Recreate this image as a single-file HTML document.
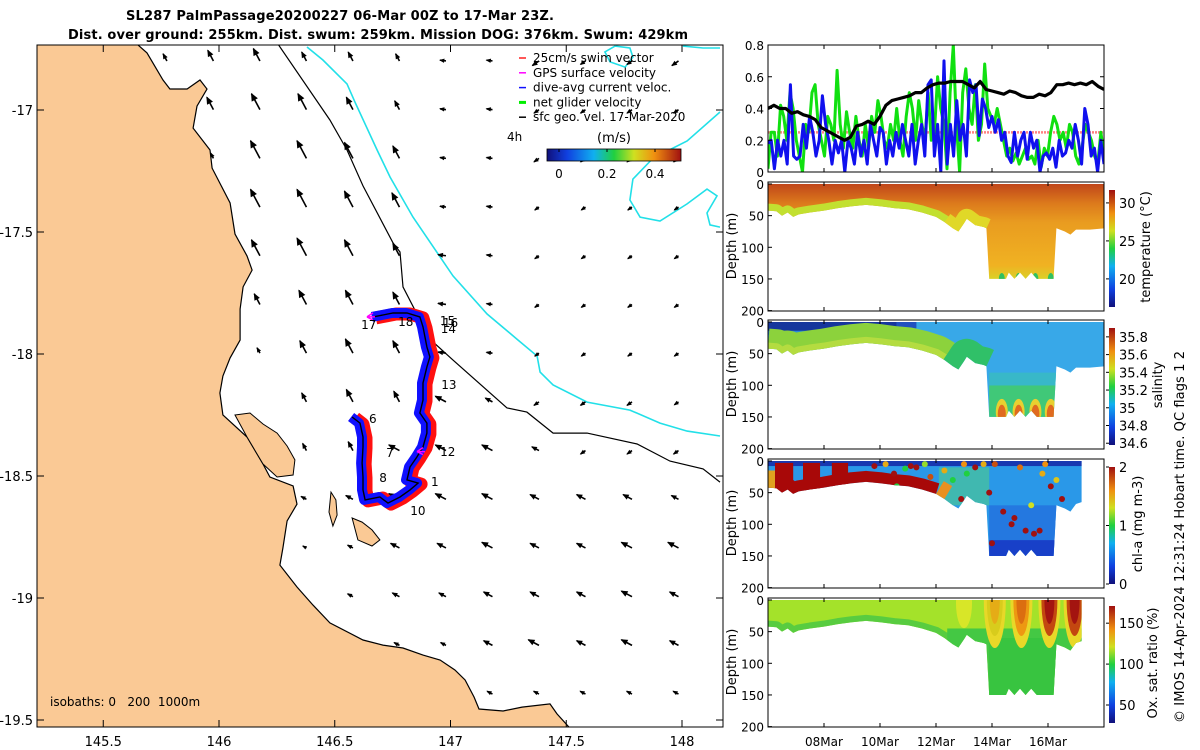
<!DOCTYPE html>
<html><head><meta charset="utf-8"><style>
html,body{margin:0;padding:0;background:#fff;}
svg{display:block;font-family:"DejaVu Sans","Liberation Sans",sans-serif;}
</style></head><body>
<svg id="fig" width="1200" height="750" viewBox="0 0 1200 750" xmlns="http://www.w3.org/2000/svg">
<defs>
<linearGradient id="jetH" x1="0" y1="0" x2="1" y2="0">
<stop offset="0" stop-color="#10107a"/><stop offset="0.15" stop-color="#1040e0"/><stop offset="0.35" stop-color="#10b0f0"/><stop offset="0.5" stop-color="#20d040"/><stop offset="0.65" stop-color="#d0e020"/><stop offset="0.8" stop-color="#f09010"/><stop offset="1" stop-color="#a01010"/></linearGradient>
<linearGradient id="jetV" x1="0" y1="1" x2="0" y2="0">
<stop offset="0" stop-color="#10107a"/><stop offset="0.15" stop-color="#1040e0"/><stop offset="0.35" stop-color="#10b0f0"/><stop offset="0.5" stop-color="#20d040"/><stop offset="0.65" stop-color="#d0e020"/><stop offset="0.8" stop-color="#f09010"/><stop offset="1" stop-color="#a01010"/></linearGradient>
<linearGradient id="tempGrad" gradientUnits="userSpaceOnUse" x1="0" y1="184" x2="0" y2="280">
<stop offset="0" stop-color="#c0461a"/><stop offset="0.2" stop-color="#dc7a1c"/><stop offset="0.4" stop-color="#e99c20"/><stop offset="0.85" stop-color="#f0b222"/><stop offset="1" stop-color="#d8d428"/></linearGradient>
<clipPath id="mapClip"><rect x="37" y="45" width="686" height="682"/></clipPath>
<clipPath id="velClip"><rect x="768" y="45" width="336" height="127"/></clipPath>
<clipPath id="ylabClip"><rect x="720" y="44" width="40" height="160"/></clipPath>
</defs>
<g id="map"></g>
<g id="right"></g>
<text x="340" y="20" text-anchor="middle" font-size="13" font-weight="bold" textLength="428">SL287 PalmPassage20200227 06-Mar 00Z to 17-Mar 23Z.</text>
<text x="378" y="39" text-anchor="middle" font-size="13" font-weight="bold" textLength="620">Dist. over ground: 255km. Dist. swum: 259km. Mission DOG: 376km. Swum: 429km</text>
<text transform="translate(1184,537) rotate(-90)" text-anchor="middle" font-size="13" textLength="372">© IMOS 14-Apr-2024 12:31:24 Hobart time. QC flags 1  2</text>
</svg>
<script>
const NS="http://www.w3.org/2000/svg";
// ---------- MAP DATA ----------
const lonTicks=[145.5,146,146.5,147,147.5,148];
const latTicks=[-17,-17.5,-18,-18.5,-19,-19.5];
const coastLon=[145.646,145.689,145.758,145.788,145.862,145.918,145.948,145.905,145.888,145.961,145.970,146.048,146.069,146.121,146.143,146.104,146.091,146.091,146.048,146.017,146.004,146.017,146.121,146.190,146.220,146.320,146.337,146.294,146.276,146.263,146.337,146.406,146.479,146.622,146.708,146.795,146.881,146.955,147.019,147.063,147.102,147.123,147.227,147.309,147.430,147.460,147.512];
const coastLat=[-16.730,-16.766,-16.877,-16.914,-16.914,-16.877,-16.914,-16.984,-17.074,-17.164,-17.238,-17.381,-17.508,-17.598,-17.656,-17.725,-17.816,-17.943,-18.016,-18.090,-18.160,-18.250,-18.340,-18.451,-18.504,-18.541,-18.615,-18.684,-18.795,-18.865,-18.955,-19.029,-19.102,-19.172,-19.193,-19.205,-19.234,-19.254,-19.295,-19.336,-19.406,-19.455,-19.463,-19.447,-19.434,-19.475,-19.529];
const peninLon=[146.069,146.134,146.190,146.251,146.294,146.328,146.320,146.251,146.190,146.121];
const peninLat=[-18.250,-18.242,-18.287,-18.324,-18.377,-18.434,-18.496,-18.504,-18.451,-18.340];
const palmLon=[146.575,146.618,146.661,146.695,146.661,146.600];
const palmLat=[-18.672,-18.689,-18.721,-18.762,-18.787,-18.762];
const palm2Lon=[146.484,146.505,146.510,146.492,146.475];
const palm2Lat=[-18.566,-18.598,-18.660,-18.705,-18.648];
const iso200Lon=[146.255,146.479,146.553,146.622,146.752,146.782,146.795,146.911,147.011,147.244,147.330,147.443,147.590,147.806,147.948,148.091,148.164];
const iso200Lat=[-16.730,-17.041,-17.164,-17.311,-17.545,-17.582,-17.725,-17.939,-18.025,-18.221,-18.238,-18.324,-18.324,-18.369,-18.439,-18.471,-18.525];
const iso1000Lon=[146.380,146.449,146.553,146.587,146.683,146.739,146.838,147.011,147.158,147.287,147.374,147.387,147.443,147.590,147.775,147.905,148.022,148.164];
const iso1000Lat=[-16.742,-16.795,-16.893,-16.967,-17.164,-17.275,-17.439,-17.680,-17.836,-17.939,-18.008,-18.074,-18.127,-18.197,-18.230,-18.283,-18.316,-18.336];
const loopLon=[147.711,147.775,147.788,147.754,147.689,147.667,147.711];
const loopLat=[-16.738,-16.746,-16.783,-16.824,-16.803,-16.762,-16.738];
const topRLon=[148.004,148.091,148.164];
const topRLat=[-16.738,-16.746,-16.746];
const eddyLon=[148.164,148.022,147.875,147.788,147.775,147.819,147.905,148.022,148.108,148.151,148.108,148.121,148.164];
const eddyLat=[-17.008,-17.127,-17.197,-17.283,-17.369,-17.439,-17.455,-17.385,-17.324,-17.352,-17.422,-17.471,-17.480];
const trackLon=[146.575,146.609,146.622,146.622,146.618,146.622,146.622,146.631,146.695,146.730,146.782,146.825,146.860,146.812,146.825,146.855,146.881,146.898,146.898,146.868,146.881,146.881,146.898,146.911,146.898,146.881,146.868,146.812,146.752,146.708,146.665];
const trackLat=[-18.258,-18.283,-18.340,-18.381,-18.447,-18.504,-18.557,-18.598,-18.586,-18.611,-18.586,-18.557,-18.529,-18.516,-18.463,-18.422,-18.381,-18.324,-18.283,-18.242,-18.189,-18.119,-18.053,-18.012,-17.971,-17.889,-17.848,-17.832,-17.832,-17.840,-17.848];
const dayLabels=["17","18","15","14","16","13","12","1","10","8","7","6"];
const dayLabLon=[146.614,146.774,146.954,146.958,146.967,146.960,146.955,146.916,146.826,146.692,146.722,146.648];
const dayLabLat=[-17.877,-17.865,-17.861,-17.894,-17.869,-18.123,-18.398,-18.520,-18.639,-18.504,-18.402,-18.262];
const gridLon0=145.775, gridDLon=0.2009, gridLat0=-16.799, gridDLat=-0.1996;
const vecLen=[
[8,12,14,10,10,8,6,6,8,6,6,8],
[0,14,18,18,14,10,6,6,6,6,6,6],
[0,6,20,20,18,14,6,6,6,6,6,6],
[0,0,20,20,18,16,6,6,5,5,5,5],
[0,0,18,20,18,14,8,6,5,5,5,5],
[0,0,12,16,16,14,8,6,5,5,5,5],
[0,0,6,14,16,14,8,6,5,5,5,5],
[0,0,0,10,14,12,12,8,6,6,6,5],
[0,0,0,8,10,12,12,12,8,6,6,6],
[0,0,0,6,8,12,12,12,10,10,10,8],
[0,0,0,4,6,10,10,12,10,10,12,12],
[0,0,0,0,6,8,8,10,10,10,12,10],
[0,0,0,0,0,6,6,10,12,10,12,10],
[0,0,0,0,0,0,0,6,6,6,6,6]];
const vecDir=["NNNNNNWWSSSS","NNNNNNWWSSSS","NNNNNNWWSSSS","NNNNNNWWSSSS","NNNNNNWWSSSS","NNNNNNWWSSSS","NNNNNNWWSSSS","NNNNNNLLSSSS","NNNNNLLLLSSS","LLLLLLLLLLLL","LLLLLLLLLLLL","LLLLLLLLLLLL","LLLLLLLLLLLL","LLLLLLLLLLLL"];
const dirDeg={N:118,W:172,S:215,L:152};
const legendLabels=["25cm/s swim vector","GPS surface velocity","dive-avg current veloc.","net glider velocity","sfc geo. vel. 17-Mar-2020"];
const legendColors=["#ff2020","#ff00ff","#1010ff","#00ee00","#000000"];
const speedTicks=[0,0.2,0.4];

// ---------- TIME SERIES DATA ----------
const velTicks=[0,0.2,0.4,0.6,0.8];
const depthTicks=[0,50,100,150,200];
const dateTickDays=[2,4,6,8,10];
const dateLabels=["08Mar","10Mar","12Mar","14Mar","16Mar"];
const blueVel=[0.18,0.2,0.02,0.2,0.1,0.2,0.05,0.55,0.1,0.08,0.1,0.3,0.15,0.35,0.25,0.1,0.2,0.48,0.3,0.2,0.05,0.2,0.12,0.2,0.0,0.2,0.15,0.05,0.25,0.1,0.2,0.05,0.3,0.2,0.1,0.28,0.25,0.05,0.2,0.1,0.25,0.15,0.3,0.2,0.1,0.3,0.05,0.2,0.3,0.1,0.55,0.58,0.1,0.3,0.0,0.7,0.05,0.3,0.1,0.45,0.2,0.3,0.1,0.58,0.5,0.55,0.23,0.46,0.4,0.28,0.35,0.25,0.33,0.2,0.25,0.1,0.06,0.25,0.1,0.2,0.25,0.08,0.25,0.15,0.2,0.0,0.1,0.12,0.08,0.15,0.03,0.2,0.1,0.12,0.2,0.15,0.3,0.2,0.05,0.4,0.3,0.1,0.15,0.0,0.2,0.05];
const greenVel=[0.02,0.25,0.25,0.1,0.42,0.35,0.2,0.5,0.4,0.2,0.1,0.0,0.3,0.25,0.5,0.55,0.3,0.2,0.1,0.35,0.3,0.2,0.64,0.3,0.15,0.38,0.25,0.15,0.35,0.2,0.1,0.3,0.15,0.35,0.25,0.45,0.35,0.2,0.15,0.3,0.2,0.4,0.2,0.1,0.35,0.5,0.4,0.2,0.45,0.3,0.2,0.5,0.2,0.25,0.6,0.4,0.3,0.02,0.5,0.8,0.3,0.0,0.5,0.65,0.4,0.3,0.55,0.2,0.3,0.68,0.4,0.35,0.3,0.4,0.3,0.2,0.1,0.15,0.07,0.12,0.05,0.1,0.15,0.08,0.1,0.05,0.2,0.03,0.15,0.1,0.25,0.35,0.3,0.2,0.25,0.15,0.3,0.25,0.1,0.05,0.15,0.3,0.25,0.2,0.1,0.05,0.25,0.1];
const blackVel=[0.4,0.42,0.4,0.4,0.37,0.38,0.36,0.35,0.33,0.28,0.26,0.24,0.22,0.2,0.22,0.29,0.3,0.32,0.3,0.35,0.42,0.45,0.46,0.47,0.48,0.5,0.5,0.53,0.55,0.56,0.56,0.57,0.57,0.57,0.55,0.53,0.57,0.52,0.51,0.5,0.49,0.51,0.5,0.48,0.47,0.47,0.49,0.48,0.5,0.55,0.55,0.56,0.55,0.56,0.55,0.57,0.54,0.52];
const swimSpeed=0.25;
const botDays=[0,0.3,0.5,0.7,0.9,1.1,1.5,2,2.5,3,3.5,4,4.5,5,5.5,6,6.3,6.6,6.8,7.0,7.1,7.4,7.7,7.8,7.9,8.5,8.6,8.8,9.0,9.2,9.4,9.6,9.8,10.2,10.3,10.6,10.8,11,11.5,12.05];
const botDepth=[42,43,50,45,52,48,45,42,38,35,33,35,38,40,45,52,60,70,75,62,55,65,68,70,150,150,140,150,140,150,140,150,150,150,70,75,80,72,72,70];
const bot2Days=[0,0.3,0.5,0.7,0.9,1.1,1.5,2,2.5,3,3.5,4,4.5,5,5.5,6,6.3,6.6,6.8,7.0,7.1,7.4,7.7,7.8,7.9,8.5,8.6,8.8,9.0,9.2,9.4,9.6,9.8,10.2,10.3,10.6,10.8,11,11.2];
const bot2Depth=[42,43,50,45,52,48,45,42,38,35,33,35,38,40,45,52,60,70,75,62,55,65,68,70,150,150,140,150,140,150,140,150,150,150,70,75,80,68,65];
const salBlobDays=[8.35,8.95,9.55,10.1];
const oxPeakDays=[8.1,9.05,10.05,10.95];
const oxPeakVal=[135,150,170,170];
const chlDotDays=[3.8,4.2,4.5,4.9,5.3,5.6,5.8,6.3,6.6,6.9,7.1,7.4,7.7,7.9,8.1,8.4,8.7,9.0,9.2,9.4,9.7,9.9,10.1,10.3,10.5,8.0,8.8,9.5,4.6,5.1,7.0,9.8];
const chlDotDepth=[8,5,20,12,10,5,25,15,30,60,20,10,5,50,5,80,100,10,110,70,110,5,40,30,60,130,90,115,40,8,5,20];
const chlDotVal=[2,1.5,2,1,2,1.2,1.8,1.5,1,2,1,2,1.5,2,1.8,2,2,1.7,2,1.3,2,1.6,2,1.4,2,2,2,2,1,2,1.6,1.5];

// ---------- helpers ----------
function mk(tag,attrs,parent){const e=document.createElementNS(NS,tag);for(const k in attrs)e.setAttribute(k,attrs[k]);if(parent)parent.appendChild(e);return e;}
const lonX=l=>219+(l-146)*231.5;
const latY=l=>110+(-17-l)*244;
function lonlatPath(lons,lats,close){let d="";for(let i=0;i<lons.length;i++)d+=(i?"L":"M")+lonX(lons[i]).toFixed(1)+","+latY(lats[i]).toFixed(1);return d+(close?"Z":"");}
function jet(t){t=Math.max(0,Math.min(1,t));const st=[[0,16,16,122],[0.15,16,64,224],[0.35,16,176,240],[0.5,32,208,64],[0.65,208,224,32],[0.8,240,144,16],[1,160,16,16]];
for(let i=1;i<st.length;i++){if(t<=st[i][0]){const a=st[i-1],b=st[i],f=(t-a[0])/(b[0]-a[0]);return `rgb(${Math.round(a[1]+f*(b[1]-a[1]))},${Math.round(a[2]+f*(b[2]-a[2]))},${Math.round(a[3]+f*(b[3]-a[3]))})`;}}return "rgb(160,16,16)";}

// ---------- MAP ----------
const map=document.getElementById('map');
const mg=mk('g',{'clip-path':'url(#mapClip)'},map);

let landD="M37,45L"+lonX(coastLon[0]).toFixed(1)+",45"+lonlatPath(coastLon,coastLat,false).replace(/^M/,"L")+"L"+lonX(coastLon[coastLon.length-1]).toFixed(1)+",727L37,727Z";
const land=mk('path',{d:landD,fill:'#fac995',stroke:'none'},mg);

const coastLine=mk('path',{d:lonlatPath(coastLon,coastLat,false),fill:'none',stroke:'#000','stroke-width':1.2},mg);

[[peninLon,peninLat,'hinchinbrook-island'],[palmLon,palmLat,'great-palm-island'],[palm2Lon,palm2Lat,'small-palm-island']].forEach(a=>{
const p=mk('path',{d:lonlatPath(a[0],a[1],true),fill:'#fac995',stroke:'#000','stroke-width':1},mg);
});
const iso2=mk('path',{d:lonlatPath(iso200Lon,iso200Lat,false),fill:'none',stroke:'#000','stroke-width':1.2},mg);

[[iso1000Lon,iso1000Lat,'isobath-1000m'],[loopLon,loopLat,'isobath-1000m-loop'],[topRLon,topRLat,'isobath-1000m-top'],[eddyLon,eddyLat,'isobath-1000m-east']].forEach(a=>{
const p=mk('path',{d:lonlatPath(a[0],a[1],false),fill:'none',stroke:'#22e0e8','stroke-width':1.6},mg);
});
const vg=mk('g',{},mg);

for(let j=0;j<vecLen.length;j++)for(let i=0;i<vecLen[j].length;i++){
const L=vecLen[j][i];if(!L)continue;
const x0=lonX(gridLon0+i*gridDLon),y0=latY(gridLat0+j*gridDLat);
const a=dirDeg[vecDir[j][i]]*Math.PI/180,c=Math.cos(a),s=-Math.sin(a);
const x1=x0+L*c,y1=y0+L*s,h=Math.min(7,2.5+L*0.3);
const ar=mk('g',{},vg);


mk('line',{x1:x0,y1:y0,x2:x1,y2:y1,stroke:'#000','stroke-width':1.6},ar);
mk('path',{d:`M${x1+c*1},${y1+s*1}L${x1-h*c-h*0.5*s},${y1-h*s+h*0.5*c}L${x1-h*c+h*0.5*s},${y1-h*s-h*0.5*c}Z`,fill:'#000'},ar);}
const tD=lonlatPath(trackLon,trackLat,false);
const tr1=mk('path',{d:tD,fill:'none',stroke:'#ff1010','stroke-width':13,'stroke-linejoin':'round',transform:'translate(3,1)'},mg);

const tr2=mk('path',{d:tD,fill:'none',stroke:'#1010ff','stroke-width':10,'stroke-linejoin':'round',transform:'translate(-1,0)'},mg);

const tr3=mk('path',{d:tD,fill:'none',stroke:'#000','stroke-width':1.4},mg);

[[146.665,-17.848],[146.881,-18.40]].forEach(p=>{const g=mk('path',{d:`M${lonX(p[0])-6},${latY(p[1])}l6,-4m-6,4l6,3M${lonX(p[0])-6},${latY(p[1])}h8`,stroke:'#ff00ff','stroke-width':1.5,fill:'none'},mg);
});
for(let k=0;k<dayLabels.length;k++){const t=mk('text',{x:lonX(dayLabLon[k]),y:latY(dayLabLat[k])+5,'font-size':12},mg);t.textContent=dayLabels[k];
}
for(let k=0;k<legendLabels.length;k++){const y=62+k*14.8;
const m=mk('line',{x1:519,y1:y-4,x2:526,y2:y-4,stroke:legendColors[k],'stroke-width':k==3?3:1.5},map);

const t=mk('text',{x:533,y:y,'font-size':12},map);t.textContent=legendLabels[k];
}
let t4=mk('text',{x:507,y:141,'font-size':12},map);t4.textContent='4h';
let tu=mk('text',{x:614,y:142,'font-size':13,'text-anchor':'middle'},map);tu.textContent='(m/s)';
const scb=mk('rect',{x:547,y:149,width:134,height:12,fill:'url(#jetH)',stroke:'#000','stroke-width':0.8},map);

speedTicks.forEach(v=>{const x=559+v*240;mk('line',{x1:x,y1:149,x2:x,y2:152,stroke:'#000'},map);
const t=mk('text',{x:x,y:178,'font-size':12,'text-anchor':'middle'},map);t.textContent=String(v);
});
let iso=mk('text',{x:50,y:706,'font-size':12,style:'white-space:pre'},map);iso.textContent='isobaths: 0   200  1000m';
const mf=mk('rect',{x:37,y:45,width:686,height:682,fill:'none',stroke:'#000','stroke-width':1},map);

lonTicks.forEach(l=>{const x=lonX(l);mk('line',{x1:x,y1:727,x2:x,y2:720,stroke:'#000'},map);mk('line',{x1:x,y1:45,x2:x,y2:52,stroke:'#000'},map);
const t=mk('text',{x:x,y:746,'font-size':13,'text-anchor':'middle'},map);t.textContent=String(l);
});
latTicks.forEach(l=>{const y=latY(l);mk('line',{x1:37,y1:y,x2:44,y2:y,stroke:'#000'},map);mk('line',{x1:723,y1:y,x2:716,y2:y,stroke:'#000'},map);
const t=mk('text',{x:33,y:y+5,'font-size':13,'text-anchor':'end'},map);t.textContent=String(l);
});

// ---------- RIGHT PANELS ----------
const R=document.getElementById('right');
const X0=768,X1=1104,DX=28;
const dX=d=>X0+d*DX;
function axesBox(top,h,name){const r=mk('rect',{x:X0,y:top,width:X1-X0,height:h,fill:'none',stroke:'#000','stroke-width':1},R);

dateTickDays.forEach(d=>{mk('line',{x1:dX(d),y1:top+h,x2:dX(d),y2:top+h-4,stroke:'#000'},R);mk('line',{x1:dX(d),y1:top,x2:dX(d),y2:top+4,stroke:'#000'},R);});}
const vY=v=>172-v*158.75;
const vg2=mk('g',{'clip-path':'url(#velClip)'},R);

const sw=mk('line',{x1:X0,y1:vY(swimSpeed),x2:X1,y2:vY(swimSpeed),stroke:'#ff5050','stroke-width':2.5,'stroke-dasharray':'2 1',opacity:0.7},vg2);

function series(arr,color,w,name){let d="";arr.forEach((v,i)=>{d+=(i?"L":"M")+dX(i*12/(arr.length-1)).toFixed(1)+","+vY(v).toFixed(1);});
const p=mk('path',{d:d,fill:'none',stroke:color,'stroke-width':w,'stroke-linejoin':'round'},vg2);}
series(greenVel,'#10e010',3,'net-glider-velocity-line');
series(blueVel,'#1010ee',3,'dive-avg-current-line');
series(blackVel,'#000',3.2,'sfc-geo-velocity-line');
axesBox(45,127,'velocity-axes');
velTicks.forEach(v=>{mk('line',{x1:X0,y1:vY(v),x2:X0+4,y2:vY(v),stroke:'#000'},R);mk('line',{x1:X1,y1:vY(v),x2:X1-4,y2:vY(v),stroke:'#000'},R);
const t=mk('text',{x:X0-4,y:vY(v)+5,'font-size':12,'text-anchor':'end'},R);t.textContent=String(v);
});
const vl=mk('text',{transform:'translate(736,112) rotate(-90)','font-size':12.5,'text-anchor':'middle','clip-path':'url(#ylabClip)'},R);
vl.textContent='velocity magnitude (m/s)';

const panels=[{top:182,name:'temperature',label:'temperature (°C)',lx:1150,ticks:[20,25,30],vmin:16.3,vmax:31.7,days:botDays,deps:botDepth},
{top:320,name:'salinity',label:'salinity',lx:1162,ticks:[34.6,34.8,35,35.2,35.4,35.6,35.8],vmin:34.58,vmax:35.9,days:botDays,deps:botDepth},
{top:459,name:'chl-a',label:'chl-a (mg m-3)',lx:1142,ticks:[0,1,2],vmin:0,vmax:2,days:bot2Days,deps:bot2Depth},
{top:598,name:'oxygen',label:'Ox. sat. ratio (%)',lx:1157,ticks:[50,100,150],vmin:28,vmax:171,days:bot2Days,deps:bot2Depth}];
panels.forEach((P,pi)=>{
const top=P.top,H=129;const dY=d=>top+2+d*0.633;
let sd=`M${dX(P.days[0])},${dY(0)}L${dX(P.days[P.days.length-1])},${dY(0)}`;
for(let i=P.days.length-1;i>=0;i--)sd+=`L${dX(P.days[i]).toFixed(1)},${dY(P.deps[i]).toFixed(1)}`;sd+="Z";
const cp=mk('clipPath',{id:'sec'+pi},document.querySelector('defs'));mk('path',{d:sd},cp);
const g=mk('g',{'clip-path':`url(#sec${pi})`},R);

function bottomStroke(d0,d1,color,w){let d="";let first=true;for(let i=0;i<P.days.length;i++){if(P.days[i]<d0||P.days[i]>d1)continue;d+=(first?"M":"L")+dX(P.days[i]).toFixed(1)+","+dY(P.deps[i]).toFixed(1);first=false;}
mk('path',{d:d,fill:'none',stroke:color,'stroke-width':w,'stroke-linejoin':'round'},g);}
const rectD=(d0,d1,z0,z1,color)=>mk('rect',{x:dX(d0),y:dY(z0),width:(d1-d0)*DX,height:(z1-z0)*0.633,fill:color},g);
if(pi==0){mk('rect',{x:X0,y:top,width:X1-X0,height:H,fill:'url(#tempGrad)'},g);
bottomStroke(0,7.8,'#c2e030',14);bottomStroke(6.2,7.8,'#e0d828',20);
salBlobDays.forEach(d=>mk('ellipse',{cx:dX(d),cy:dY(150),rx:3,ry:6,fill:'#30c060'},g));}
if(pi==1){mk('rect',{x:X0,y:top,width:X1-X0,height:H,fill:'#38a8e8'},g);
rectD(0,4.6,0,14,'#16369c');rectD(4.6,5.3,0,10,'#2050c0');rectD(0,5,14,20,'#2a8ad8');
bottomStroke(0,6.3,'#8cd23c',40);bottomStroke(0,6.3,'#b4dc40',12);bottomStroke(6.3,7.8,'#30c068',36);
rectD(7.9,10.3,100,150,'#40c878');rectD(7.9,10.3,80,100,'#38b8c8');
salBlobDays.forEach(d=>{mk('ellipse',{cx:dX(d),cy:dY(142),rx:6,ry:13,fill:'#e8d030'},g);mk('ellipse',{cx:dX(d),cy:dY(145),rx:4,ry:9,fill:'#e06a20'},g);});}
if(pi==2){mk('rect',{x:X0,y:top,width:X1-X0,height:H,fill:'#2a98e8'},g);
rectD(0,11.3,0,8,'#1838b0');rectD(7.9,10.3,70,150,'#2478e0');rectD(7.9,10.3,125,150,'#1840c8');rectD(6.1,7.9,10,70,'#40b8b0');
bottomStroke(0,6.15,'#a80808',22);bottomStroke(6.0,6.4,'#e89020',30);
[[0.25,0.9],[1.25,1.86],[2.28,2.86]].forEach(b=>rectD(b[0],b[1],3,70,'#a80808'));
rectD(0,0.25,15,45,'#e0a020');
for(let k=0;k<chlDotDays.length;k++){const c=mk('circle',{cx:dX(chlDotDays[k]),cy:dY(chlDotDepth[k]),r:3,fill:jet(chlDotVal[k]/2)},g);
}}
if(pi==3){mk('rect',{x:X0,y:top,width:X1-X0,height:H,fill:'#a4e22a'},g);
bottomStroke(0,7.8,'#58cc40',12);rectD(6.4,11.3,45,150,'#44c844');rectD(7.9,10.3,60,150,'#38c440');
for(let k=0;k<oxPeakDays.length;k++){const t=(oxPeakVal[k]-P.vmin)/(P.vmax-P.vmin);
mk('ellipse',{cx:dX(oxPeakDays[k]),cy:dY(0),rx:11,ry:48,fill:'#e8d828'},g);
mk('ellipse',{cx:dX(oxPeakDays[k]),cy:dY(0),rx:8,ry:36,fill:jet(t*0.92)},g);
mk('ellipse',{cx:dX(oxPeakDays[k]),cy:dY(0),rx:5,ry:24,fill:jet(t)},g);}
mk('ellipse',{cx:dX(7.0),cy:dY(5),rx:8,ry:25,fill:'#d8e628'},g);}
axesBox(top,H,P.name+'-axes');
depthTicks.forEach(d=>{mk('line',{x1:X0,y1:dY(d),x2:X0+4,y2:dY(d),stroke:'#000'},R);
const t=mk('text',{x:X0-4,y:dY(d)+5,'font-size':12,'text-anchor':'end'},R);t.textContent=String(d);
});
const yl=mk('text',{transform:`translate(736,${top+64}) rotate(-90)`,'font-size':13,'text-anchor':'middle'},R);yl.textContent='Depth (m)';

const cbT=top+8,cbB=top+125;
const cb=mk('rect',{x:1109,y:cbT,width:6,height:cbB-cbT,fill:'url(#jetV)'},R);

const cY=v=>cbB-(v-P.vmin)/(P.vmax-P.vmin)*(cbB-cbT);
P.ticks.forEach(v=>{mk('line',{x1:1106,y1:cY(v),x2:1109,y2:cY(v),stroke:'#000'},R);
const t=mk('text',{x:1119,y:cY(v)+5,'font-size':13},R);t.textContent=String(v);
});
const cl=mk('text',{transform:`translate(${P.lx},${top+65}) rotate(-90)`,'font-size':13,'text-anchor':'middle'},R);cl.textContent=P.label;

});
dateTickDays.forEach((d,k)=>{const t=mk('text',{x:dX(d),y:746,'font-size':12,'text-anchor':'middle'},R);t.textContent=dateLabels[k];
});
</script>
</body></html>
